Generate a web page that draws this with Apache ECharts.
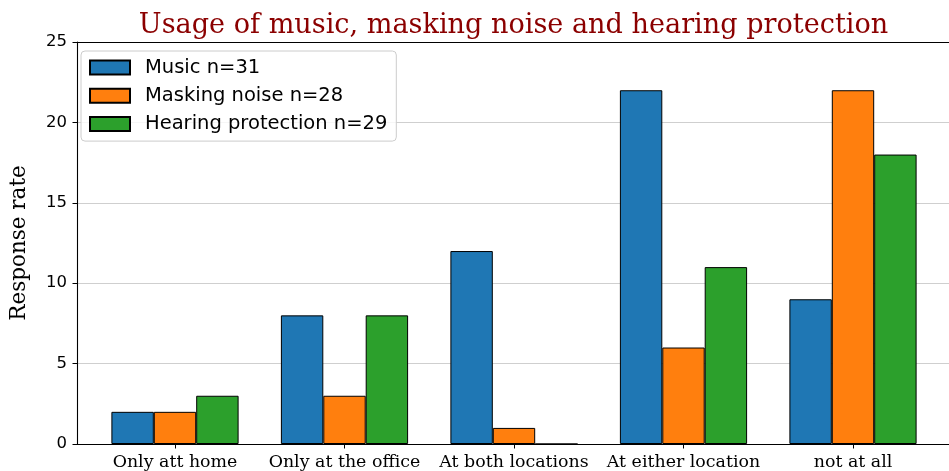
<!DOCTYPE html>
<html>
<head>
<meta charset="utf-8">
<script src="https://cdn.jsdelivr.net/npm/echarts@6/dist/echarts.min.js"></script>
<style>
  html, body { margin: 0; padding: 0; background: #fff; }
  #main { width: 949px; height: 471px; }
</style>
</head>
<body>
<div id="main"></div>
<script>
// 数据
const categories = ['Only att home', 'Only at the office', 'At both locations', 'At either location', 'not at all'];
const music = [2, 8, 12, 22, 9];
const maskingNoise = [2, 3, 1, 6, 22];
const hearingProtection = [3, 8, 0, 11, 18];
const seriesNames = ['Music n=31', 'Masking noise n=28', 'Hearing protection n=29'];
const yTicks = { min: 0, max: 25, step: 5 };

const serif = 'DejaVu Serif';
const sans = 'DejaVu Sans';

let chart = echarts.init(document.getElementById('main'), null, { renderer: 'canvas' });

function barSeries(name, data, color) {
  return {
    name: name,
    type: 'bar',
    xAxisIndex: 0,
    yAxisIndex: 0,
    data: data,
    barWidth: 42.4,
    barGap: '0%',
    itemStyle: {
      color: color,
      borderColor: '#000',
      borderWidth: 1,
    },
  };
}

chart.setOption({
  animation: false,
  title: {
    text: 'Usage of music, masking noise and hearing protection',
    left: 508.5,
    textAlign: 'center',
    top: 7,
    textStyle: { fontFamily: serif, fontSize: 27.1, fontWeight: 'normal', color: '#8b0000' },
  },
  legend: {
    orient: 'vertical',
    left: 81,
    top: 51,
    padding: [6.5, 9, 7, 8],
    itemWidth: 40,
    itemHeight: 14,
    itemGap: 8.3,
    icon: 'rect',
    backgroundColor: 'rgba(255,255,255,0.8)',
    borderColor: '#cccccc',
    borderWidth: 1,
    borderRadius: 4,
    textStyle: { fontFamily: sans, fontSize: 19.5, color: '#000', lineHeight: 14, padding: [0, 0, 0, 10] },
    data: seriesNames,
  },
  grid: [
    // bars
    { left: 90.25, width: 847.5, top: 42, bottom: 27 },
    // spines, y axis
    { left: 71, width: 886, top: 42, bottom: 27 },
  ],
  xAxis: [
    {
      type: 'category',
      gridIndex: 0,
      data: categories,
      axisLine: { show: false },
      axisTick: { show: true, alignWithLabel: true, length: 4.5, lineStyle: { color: '#000', width: 1 } },
      axisLabel: { fontFamily: serif, fontSize: 17.4, color: '#000', margin: 10, interval: 0 },
      splitLine: { show: false },
    },
    {
      type: 'value',
      gridIndex: 1,
      min: 0,
      max: 1,
      position: 'bottom',
      axisLine: { show: true, lineStyle: { color: '#000', width: 1.1 } },
      axisTick: { show: false },
      axisLabel: { show: false },
      splitLine: { show: false },
    },
    {
      type: 'value',
      gridIndex: 1,
      min: 0,
      max: 1,
      position: 'top',
      axisLine: { show: true, lineStyle: { color: '#000', width: 1.1 } },
      axisTick: { show: false },
      axisLabel: { show: false },
      splitLine: { show: false },
    },
  ],
  yAxis: [
    {
      type: 'value',
      gridIndex: 0,
      min: yTicks.min,
      max: yTicks.max,
      show: false,
    },
    {
      type: 'value',
      gridIndex: 1,
      min: yTicks.min,
      max: yTicks.max,
      interval: yTicks.step,
      name: 'Response rate',
      nameLocation: 'middle',
      nameRotate: 90,
      nameGap: 47,
      nameTextStyle: { fontFamily: serif, fontSize: 21.5, color: '#000' },
      axisLine: { show: true, lineStyle: { color: '#000', width: 1.1 } },
      axisTick: { show: true, length: 4.5, lineStyle: { color: '#000', width: 1 } },
      axisLabel: { fontFamily: sans, fontSize: 16.5, color: '#000', margin: 10 },
      splitLine: { show: true, lineStyle: { color: '#cfcfcf', width: 1 } },
    },
  ],
  series: [
    barSeries(seriesNames[0], music, '#1f77b4'),
    barSeries(seriesNames[1], maskingNoise, '#ff7f0e'),
    barSeries(seriesNames[2], hearingProtection, '#2ca02c'),
  ],
});

window.addEventListener('resize', function () {
  chart.resize();
});
</script>
</body>
</html>
